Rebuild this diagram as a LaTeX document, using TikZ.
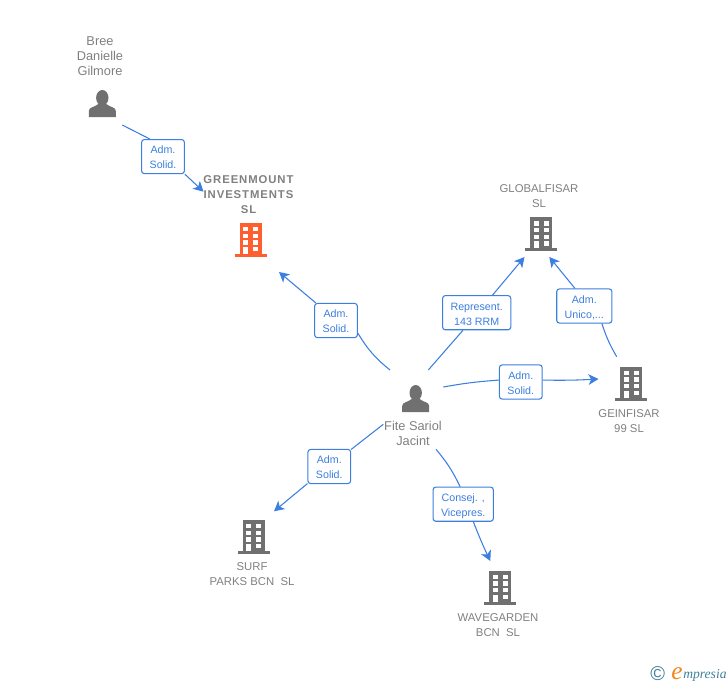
\documentclass[tikz,border=0pt]{standalone}
\usepackage{fontspec}
\setmainfont{Liberation Sans}
\newfontfamily\logofont{Liberation Serif}
\usetikzlibrary{arrows.meta}
\definecolor{linkblue}{HTML}{3C7FE0}
\definecolor{labelgray}{HTML}{808080}
\definecolor{icongray}{HTML}{707070}
\definecolor{mainorange}{HTML}{FF5F2E}
\definecolor{logoteal}{HTML}{3F8098}
\definecolor{logoorange}{HTML}{F0861E}
\tikzset{
  building/.pic={
    \fill[pic actions] (-11,0) rectangle (11,31);
    \fill[pic actions] (-16,31) rectangle (16,34);
    \foreach \ypos in {4,10.7,17.3}{
      \fill[white] (-7.3,\ypos) rectangle (-2.5,\ypos+4.4);
      \fill[white] (2.7,\ypos) rectangle (7.5,\ypos+4.4);
    }
    \fill[white] (-7.3,24) rectangle (-2.5,31);
    \fill[white] (2.7,24) rectangle (7.5,28.4);
  },
  person/.pic={
    \fill[pic actions] (0,7.8) ellipse (6.2 and 7.8);
    \fill[pic actions] (-13.5,27) -- (-13.5,21) .. controls (-13.5,17) and (-8,17.5) .. (-4,14)
      -- (4,14) .. controls (8,17.5) and (13.5,17) .. (13.5,21) -- (13.5,27) -- cycle;
  }
}
\begin{document}
\begin{tikzpicture}[x=0.75pt,y=-0.75pt,
    namelabel/.style ={text=labelgray, align=center, inner sep=0pt, font=\fontsize{9.6}{11.25}\selectfont},
    firmlabel/.style ={text=labelgray, align=center, inner sep=0pt, font=\fontsize{8.5}{11.25}\selectfont},
    rolebox/.style ={draw=linkblue, fill=white, rounded corners=2pt, line width=0.8pt, text=linkblue, align=center,
      inner xsep=6pt, inner ysep=0pt, minimum height=25.6pt, text height=18.5pt, text depth=0pt, font=\fontsize{8}{11.25}\selectfont},
    link/.style ={draw=linkblue, line width=0.8pt},
    arrowlink/.style ={link, -{Stealth[length=7.5pt,width=8pt,inset=2pt]}}]
   \useasboundingbox (0,0) rectangle (728,685);

   % people and firms
   \pic[icongray] at (102.3,90) {person};
   \pic[icongray] at (415.7,385) {person};
   \pic[mainorange] at (250.7,223) {building};
   \pic[icongray] at (541,217.3) {building};
   \pic[icongray] at (631,366.7) {building};
   \pic[icongray] at (253.7,520) {building};
   \pic[icongray] at (500,570.7) {building};

   \node[namelabel] (bree) at (100,56.3) {Bree\\Danielle\\Gilmore};
   \node[namelabel] (fite) at (413,433.7) {Fite Sariol\\Jacint};
   \node[firmlabel, font=\fontsize{8.5}{11.25}\selectfont\bfseries\addfontfeatures{LetterSpace=8}] (greenmount) at (248.5,195) {GREENMOUNT\\INVESTMENTS\\SL};
   \node[firmlabel] (globalfisar) at (539,196.3) {GLOBALFISAR\\SL};
   \node[firmlabel] (geinfisar) at (629,421.3) {GEINFISAR\\99 SL};
   \node[firmlabel] (surf) at (252,574.3) {SURF\\PARKS BCN\ \ SL};
   \node[firmlabel] (wavegarden) at (498,625.3) {WAVEGARDEN\\BCN\ \ SL};

   % role boxes
   \node[rolebox] (boxA) at (163,156.6) {Adm.\\Solid.};
   \node[rolebox] (boxB) at (336,320.5) {Adm.\\Solid.};
   \node[rolebox] (boxC) at (476.7,312.7) {Represent.\\143 RRM};
   \node[rolebox] (boxD) at (584.3,306) {Adm.\\Unico,...};
   \node[rolebox] (boxE) at (520.8,382) {Adm.\\Solid.};
   \node[rolebox] (boxF) at (329.3,466.5) {Adm.\\Solid.};
   \node[rolebox] (boxG) at (463.2,504.2) {Consej. ,\\Vicepres.};

   % free ends
   \coordinate (tailA) at (122.3,125);
   \coordinate (tipA) at (203.5,191.7);
   \coordinate (tailB) at (390,370);
   \coordinate (tipB) at (279,272);
   \coordinate (tailC) at (428.3,370);
   \coordinate (tipC) at (524.5,257);
   \coordinate (tailD) at (616.7,356.7);
   \coordinate (tipD) at (549.3,257);
   \coordinate (tailE) at (443.3,387);
   \coordinate (tipE) at (598.5,379);
   \coordinate (tailF) at (383.3,424.3);
   \coordinate (tipF) at (274,511.3);
   \coordinate (tailG) at (436,449.3);
   \coordinate (tipG) at (490.3,561);

   \draw[link] (tailA) to (boxA.127);
   \draw[arrowlink] (boxA.south east) to (tipA);
   \draw[link] (tailB) to[bend left=10] (boxB.-30);
   \draw[arrowlink] (boxB.139) to (tipB);
   \draw[link] (tailC) to (boxC.232);
   \draw[arrowlink] (boxC.48) to (tipC);
   \draw[link] (tailD) to[bend left=6] (boxD.-45);
   \draw[arrowlink] (boxD.118) to (tipD);
   \draw[link] (tailE) to[bend left=3] (boxE.175);
   \draw[arrowlink] (boxE.5) to[bend right=2] (tipE);
   \draw[link] (tailF) to (boxF.38);
   \draw[arrowlink] (boxF.218) to (tipF);
   \draw[link] (tailG) to[bend left=7] (boxG.100);
   \draw[arrowlink] (boxG.-60) to[bend right=2] (tipG);

   % logo
   \node[text=logoteal, inner sep=0pt, font=\fontsize{15}{15}\selectfont] (copyright) at (657.7,673.5) {©};
   \node[text=logoteal, anchor=base west, inner sep=0pt, font=\logofont\itshape\fontsize{10.2}{12}\selectfont] (logoname) at (683,678) {mpresia};
   \node[text=logoorange, anchor=base east, inner sep=0pt, font=\logofont\itshape\fontsize{19}{19}\selectfont] (logoe) at (683,679) {e};
\end{tikzpicture}
\end{document}
